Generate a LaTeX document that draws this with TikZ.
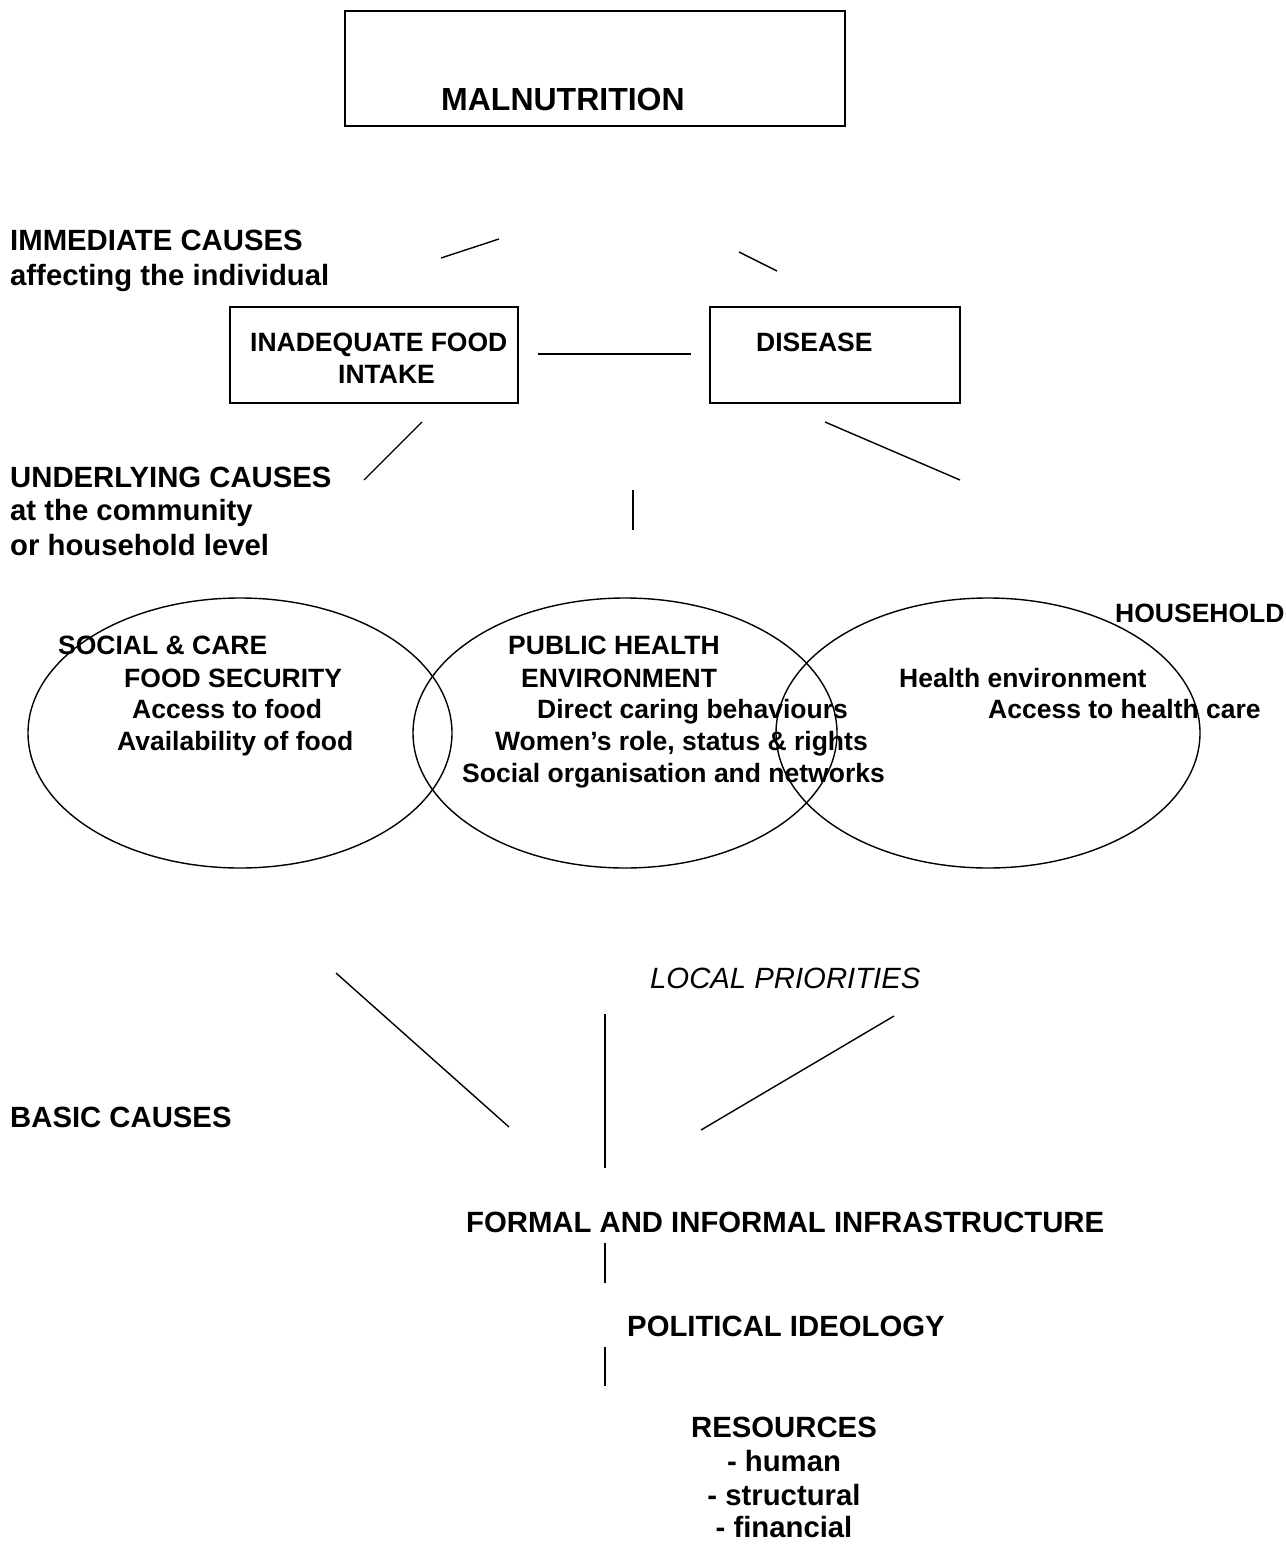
\documentclass[tikz,border=0pt]{standalone}
\usepackage{fontspec}
\setmainfont{Liberation Sans}
\usetikzlibrary{shapes.geometric}
\begin{document}
\begin{tikzpicture}[x=1pt,y=-1pt,
  lbl/.style={inner sep=0pt, anchor=base west, font=\fontsize{29.3}{34}\selectfont\bfseries},
  sml/.style={inner sep=0pt, anchor=base west, font=\fontsize{26.5}{32}\selectfont\bfseries},
  cen/.style={inner sep=0pt, anchor=base, font=\fontsize{29.3}{34}\selectfont\bfseries},
  boxnode/.style={draw, line width=1.8pt, inner sep=0pt},
  seg/.style={line width=1.4pt},
  ring/.style={draw, ellipse, line width=1.4pt, inner sep=0pt, minimum width=424pt, minimum height=270pt}]
\useasboundingbox (0,0) rectangle (1285,1544);
\fill[white] (0,0) rectangle (1285,1544);

% boxes
\node[boxnode, minimum width=500pt, minimum height=115pt] (malbox) at (595,68.5) {};
\node[inner sep=0pt, anchor=base west, font=\fontsize{32}{38}\selectfont\bfseries] (mal) at (441,111) {MALNUTRITION};
\node[boxnode, minimum width=288pt, minimum height=96pt] (foodbox) at (374,355) {};
\node[sml] (food1) at (250,351) {INADEQUATE FOOD};
\node[sml] (food2) at (338,383) {INTAKE};
\node[boxnode, minimum width=250pt, minimum height=96pt] (disbox) at (835,355) {};
\node[sml] (dis) at (756,351) {DISEASE};

% left labels
\node[lbl] (imm1) at (10,250) {IMMEDIATE CAUSES};
\node[lbl] (imm2) at (10,285) {affecting the individual};
\node[lbl] (und1) at (10,487) {UNDERLYING CAUSES};
\node[lbl] (und2) at (10,520) {at the community};
\node[lbl] (und3) at (10,555) {or household level};
\node[lbl] (basic) at (10,1127) {BASIC CAUSES};

% segments
\coordinate (a1) at (441,258); \coordinate (a2) at (499,239);
\coordinate (b1) at (739,252); \coordinate (b2) at (777,271);
\coordinate (c1) at (538,354); \coordinate (c2) at (691,354);
\coordinate (d1) at (422,422); \coordinate (d2) at (364,480);
\coordinate (e1) at (633,490); \coordinate (e2) at (633,530);
\coordinate (f1) at (825,422); \coordinate (f2) at (960,480);
\draw[seg] (a1) -- (a2);
\draw[seg] (b1) -- (b2);
\draw[seg] (c1) -- (c2);
\draw[seg] (d1) -- (d2);
\draw[seg] (e1) -- (e2);
\draw[seg] (f1) -- (f2);

% ellipses
\node[ring] (el1) at (240,733) {};
\node[ring] (el2) at (625,733) {};
\node[ring] (el3) at (988,733) {};

% ellipse texts
\node[sml] at (58,654) {SOCIAL \& CARE};
\node[sml] at (124,687) {FOOD SECURITY};
\node[sml] at (132,718) {Access to food};
\node[sml] at (117,750) {Availability of food};
\node[sml] at (508,654) {PUBLIC HEALTH};
\node[sml] at (521,687) {ENVIRONMENT};
\node[sml] at (537,718) {Direct caring behaviours};
\node[sml] at (495,750) {Women’s role, status \& rights};
\node[sml] at (462,782) {Social organisation and networks};
\node[sml] at (1115,622) {HOUSEHOLD};
\node[sml] at (899,687) {Health environment};
\node[sml] at (988,718) {Access to health care};

% lower part
\node[inner sep=0pt, anchor=base west, font=\fontsize{29.3}{34}\selectfont\itshape] (local) at (650,988) {LOCAL PRIORITIES};
\coordinate (g1) at (336,973); \coordinate (g2) at (509,1127);
\coordinate (h1) at (605,1014); \coordinate (h2) at (605,1168);
\coordinate (i1) at (894,1016); \coordinate (i2) at (701,1130);
\draw[seg] (g1) -- (g2);
\draw[seg] (h1) -- (h2);
\draw[seg] (i1) -- (i2);

\node[lbl] (infra) at (466,1232) {FORMAL AND INFORMAL INFRASTRUCTURE};
\coordinate (j1) at (605,1243); \coordinate (j2) at (605,1283);
\draw[seg] (j1) -- (j2);
\node[lbl] (pol) at (627,1336) {POLITICAL IDEOLOGY};
\coordinate (k1) at (605,1347); \coordinate (k2) at (605,1386);
\draw[seg] (k1) -- (k2);
\node[cen] (res) at (784,1437) {RESOURCES};
\node[cen] (res1) at (784,1471) {- human};
\node[cen] (res2) at (784,1505) {- structural};
\node[cen] (res3) at (784,1537) {- financial};
\end{tikzpicture}
\end{document}
